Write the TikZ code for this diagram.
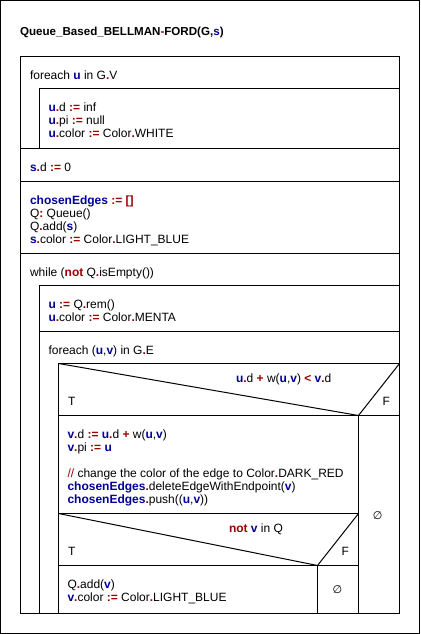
\documentclass[tikz,border=0pt]{standalone}
\usepackage{fontspec}
\setmainfont{Liberation Sans}
\newfontfamily\symfont{DejaVu Sans}
\usetikzlibrary{positioning}

\definecolor{kwblue}{RGB}{0,0,153}
\definecolor{kwred}{RGB}{153,0,0}
\newcommand{\bvar}[1]{\textcolor{kwblue}{\textbf{#1}}}
\newcommand{\rop}[1]{\textcolor{kwred}{\textbf{#1}}}

\begin{document}
\begin{tikzpicture}[x=1pt,y=-1pt,line width=1pt,
    code/.style={anchor=base west,inner sep=0pt,font=\fontsize{12}{13}\selectfont},
    cond/.style={anchor=base,inner sep=0pt,font=\fontsize{12}{13}\selectfont},
    nil/.style={anchor=center,inner sep=0pt,font=\symfont\fontsize{11}{13}\selectfont}]
    \useasboundingbox (0,0) rectangle (420,634);

    % Frame and title
    \draw (0.5,0.5) rectangle (419.5,633.5);
    \node[code,font=\fontsize{11.6}{13}\selectfont] (title) at (19.5,36) {\textbf{Queue\_Based\_BELLMAN\rop{-}FORD(G,\bvar{s})}};

    % Main block
    \draw (20.5,56.5) rectangle (399.5,613.5);

    % foreach u in G.V
    \node[code] (loopv) at (29.5,79.5) {foreach \bvar{u} in G\rop{.}V};
    \draw (399.5,88.5) -- (39.5,88.5) -- (39.5,148.5);
    \node[code] (initd) at (48,111.5) {\bvar{u}\rop{.}d \rop{:=} inf};
    \node[code] (initpi) at (48,124.5) {\bvar{u}\rop{.}pi \rop{:=} null};
    \node[code] (initcol) at (48,137.5) {\bvar{u}\rop{.}color \rop{:=} Color\rop{.}WHITE};
    \draw (20.5,148.5) -- (399.5,148.5);

    % s.d := 0
    \node[code] (sd) at (29.5,171) {\bvar{s}\rop{.}d \rop{:=} 0};
    \draw (20.5,181.5) -- (399.5,181.5);

    % Queue setup
    \node[code] (edges) at (29.5,204.3) {\bvar{chosenEdges} \rop{:= []}};
    \node[code] (queue) at (29.5,217.3) {Q\rop{:} Queue()};
    \node[code] (qadd) at (29.5,230.3) {Q\rop{.}add(\bvar{s})};
    \node[code] (scol) at (29.5,243.3) {\bvar{s}\rop{.}color \rop{:=} Color\rop{.}LIGHT\_BLUE};
    \draw (20.5,253.5) -- (399.5,253.5);

    % while loop
    \node[code] (while) at (29.5,276) {while (\rop{not} Q\rop{.}isEmpty())};
    \draw (399.5,285.5) -- (39.5,285.5) -- (39.5,613.5);
    \node[code] (rem) at (48,308.3) {\bvar{u} \rop{:=} Q\rop{.}rem()};
    \node[code] (ucol) at (48,321.3) {\bvar{u}\rop{.}color \rop{:=} Color\rop{.}MENTA};
    \draw (39.5,331.5) -- (399.5,331.5);

    % foreach (u,v) in G.E
    \node[code] (loope) at (48,354.3) {foreach (\bvar{u},\bvar{v}) in G\rop{.}E};
    \draw (399.5,363.5) -- (58.5,363.5) -- (58.5,613.5);

    % if u.d + w(u,v) < v.d
    \draw (58.5,363.5) -- (358.5,415.5) -- (399.5,363.5);
    \draw (58.5,415.5) -- (399.5,415.5);
    \draw (358.5,415.5) -- (358.5,613.5);
    \node[cond] (relax) at (283.7,382.6) {\bvar{u}\rop{.}d \rop{+} w(\bvar{u},\bvar{v}) \rop{<} \bvar{v}\rop{.}d};
    \node[code] (t1) at (67.5,405.3) {T};
    \node[code] (f1) at (382,405.3) {F};
    \node[code] (vd) at (67,438.6) {\bvar{v}\rop{.}d \rop{:=} \bvar{u}\rop{.}d \rop{+} w(\bvar{u},\bvar{v})};
    \node[code] (vpi) at (67,451.6) {\bvar{v}\rop{.}pi \rop{:=} \bvar{u}};
    \node[code] (note) at (67,477.6) {\textcolor{kwred}{//} change the color of the edge to Color\rop{.}DARK\_RED};
    \node[code] (del) at (67,490.6) {\bvar{chosenEdges}\rop{.}deleteEdgeWithEndpoint(\bvar{v})};
    \node[code] (push) at (67,503.6) {\bvar{chosenEdges}\rop{.}push((\bvar{u},\bvar{v}))};
    \node[nil] (else1) at (377.7,515.3) {∅};

    % if not v in Q
    \draw (58.5,513.5) -- (358.5,513.5);
    \draw (58.5,513.5) -- (317.5,565.5) -- (358.5,513.5);
    \draw (58.5,565.5) -- (358.5,565.5);
    \draw (317.5,565.5) -- (317.5,613.5);
    \node[cond] (inq) at (256,532) {\rop{not} \bvar{v} in Q};
    \node[code] (t2) at (67.5,555.3) {T};
    \node[code] (f2) at (341,555.3) {F};
    \node[code] (qaddv) at (67,588.3) {Q\rop{.}add(\bvar{v})};
    \node[code] (vcol) at (67,601.3) {\bvar{v}\rop{.}color \rop{:=} Color\rop{.}LIGHT\_BLUE};
    \node[nil] (else2) at (337.3,590) {∅};
\end{tikzpicture}
\end{document}
